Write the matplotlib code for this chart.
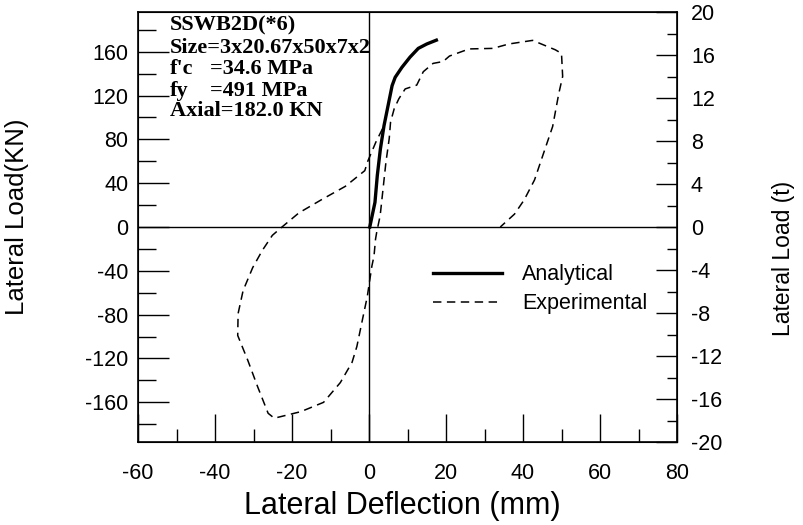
import numpy as np
import matplotlib
matplotlib.use("Agg")
from matplotlib import pyplot as plt
from matplotlib.ticker import MultipleLocator

#############################################################
# Data
#############################################################
KN_PER_T = 9.81

# Analytical backbone curve
anaDefl = [0.2, 1.55, 2.15, 2.95, 3.9, 4.95, 6.0, 6.8, 8.55, 10.65, 12.8, 15.0, 17.5]
anaLoad = [0.0, 22.5, 46.8, 71.0, 92.5, 110.7, 129.0, 136.6, 145.7, 155.0, 163.0, 167.0, 170.5]

# Experimental hysteresis loop
expDefl = [3.5, 1.8, -0.3, -1.1, -6.15, -12.3, -18.2, -22.6, -25.1, -27.7, -30.2,
           -32.7, -34.0, -34.1, -31.5, -28.9, -26.2, -24.6, -17.7, -11.8, -7.45,
           -4.4, -3.15, -1.7, -0.45, 0.75, 1.3, 1.7, 2.0, 2.9, 3.65, 4.4, 5.25, 5.6,
           6.55, 7.75, 9.4, 12.4, 14.1, 16.65, 19.25, 20.9, 26.0, 32.2, 36.3, 42.5,
           48.4, 50.0, 50.3, 49.3, 47.7, 45.3, 43.0, 40.3, 37.8, 34.1]
expLoad = [89.6, 77.6, 60.2, 51.4, 37.1, 25.0, 12.9, 0.0, -7.6, -21.3, -37.0,
           -58.0, -79.0, -99.0, -121.5, -146.0, -170.0, -174.5, -168.5, -160.0,
           -142.0, -123.5, -109.0, -84.5, -63.5, -35.6, -26.5, -11.0, -4.8, 10.4,
           34.8, 59.2, 80.6, 95.8, 108.0, 117.0, 126.0, 129.5, 141.7, 149.3,
           151.0, 156.0, 162.5, 163.0, 167.0, 170.3, 161.7, 158.4, 137.4, 121.9,
           91.7, 66.9, 43.0, 24.7, 11.8, 0.0]

infoLines = ["SSWB2D(*6)", "Size=3x20.67x50x7x2", "f'c", "fy", "Axial=182.0 KN"]
infoValues = ["", "", "=34.6 MPa", "=491 MPa", ""]

xTicks = np.arange(-60, 81, 20)
yTicksKN = np.arange(-160, 161, 40)
yTicksT = np.arange(-20, 21, 4)


#############################################################
# Plot
#############################################################
plt.rcParams["font.family"] = ["Liberation Sans", "DejaVu Sans"]
plt.rcParams["axes.unicode_minus"] = False

fig = plt.figure(figsize=(8.04, 5.25), dpi=100)
ax = fig.add_axes([138/804, 1-442/525, 539/804, 430/525])

ax.axhline(0, color="k", lw=1.0, zorder=1)
ax.axvline(0, color="k", lw=1.0, zorder=1)

ax.plot(anaDefl, anaLoad, color="k", lw=2.4, label="Analytical", zorder=3,
        solid_joinstyle="round")
ax.plot(expDefl, expLoad, color="k", lw=1.1, dashes=(5.5, 3.6), label="Experimental", zorder=2)

ax.set_xlim(-60, 80)
ax.set_ylim(-20*KN_PER_T, 20*KN_PER_T)
ax.set_xticks(xTicks)
ax.set_yticks(yTicksKN)
ax.xaxis.set_minor_locator(MultipleLocator(10))
ax.yaxis.set_minor_locator(MultipleLocator(20))
ax.tick_params(axis="x", which="major", direction="in", length=20, width=1.0, pad=15, labelsize=15.5)
ax.tick_params(axis="x", which="minor", direction="in", length=9.5, width=1.0)
ax.tick_params(axis="y", which="major", direction="in", length=22, width=1.0, pad=7, labelsize=15.5)
ax.tick_params(axis="y", which="minor", direction="in", length=13, width=1.0)
for s in ax.spines.values():
    s.set_linewidth(1.2)

ax2 = ax.twinx()
ax2.set_ylim(-20, 20)
ax2.set_yticks(yTicksT)
ax2.yaxis.set_minor_locator(MultipleLocator(2))
ax2.tick_params(axis="y", which="major", direction="in", length=15, width=1.0, pad=10, labelsize=15.5)
ax2.tick_params(axis="y", which="minor", direction="in", length=7, width=1.0)

fig.text(17/804, 1-217/525, "Lateral Load(KN)", rotation=90, ha="center", va="center", fontsize=18.5)
fig.text(784/804, 1-258/525, "Lateral Load (t)", rotation=90, ha="center", va="center", fontsize=16.5)
fig.text(402/804, 1-506/525, "Lateral Deflection (mm)", ha="center", va="center", fontsize=22)

# specimen info box
rowY = [0.968, 0.917, 0.868, 0.817, 0.770]
for txt, val, yy in zip(infoLines, infoValues, rowY):
    ax.text(0.059, yy, txt, transform=ax.transAxes, ha="left", va="center",
            fontsize=16, fontweight="bold", family="Liberation Serif")
    if val:
        ax.text(0.134, yy, val, transform=ax.transAxes, ha="left", va="center",
                fontsize=16, fontweight="bold", family="Liberation Serif")

ax.legend(loc="center left", bbox_to_anchor=(0.547, 0.355), frameon=False,
          fontsize=15.5, handlelength=3.2, handletextpad=0.95, labelspacing=0.37,
          borderpad=0, borderaxespad=0)

fig.savefig("out.png", dpi=100)
